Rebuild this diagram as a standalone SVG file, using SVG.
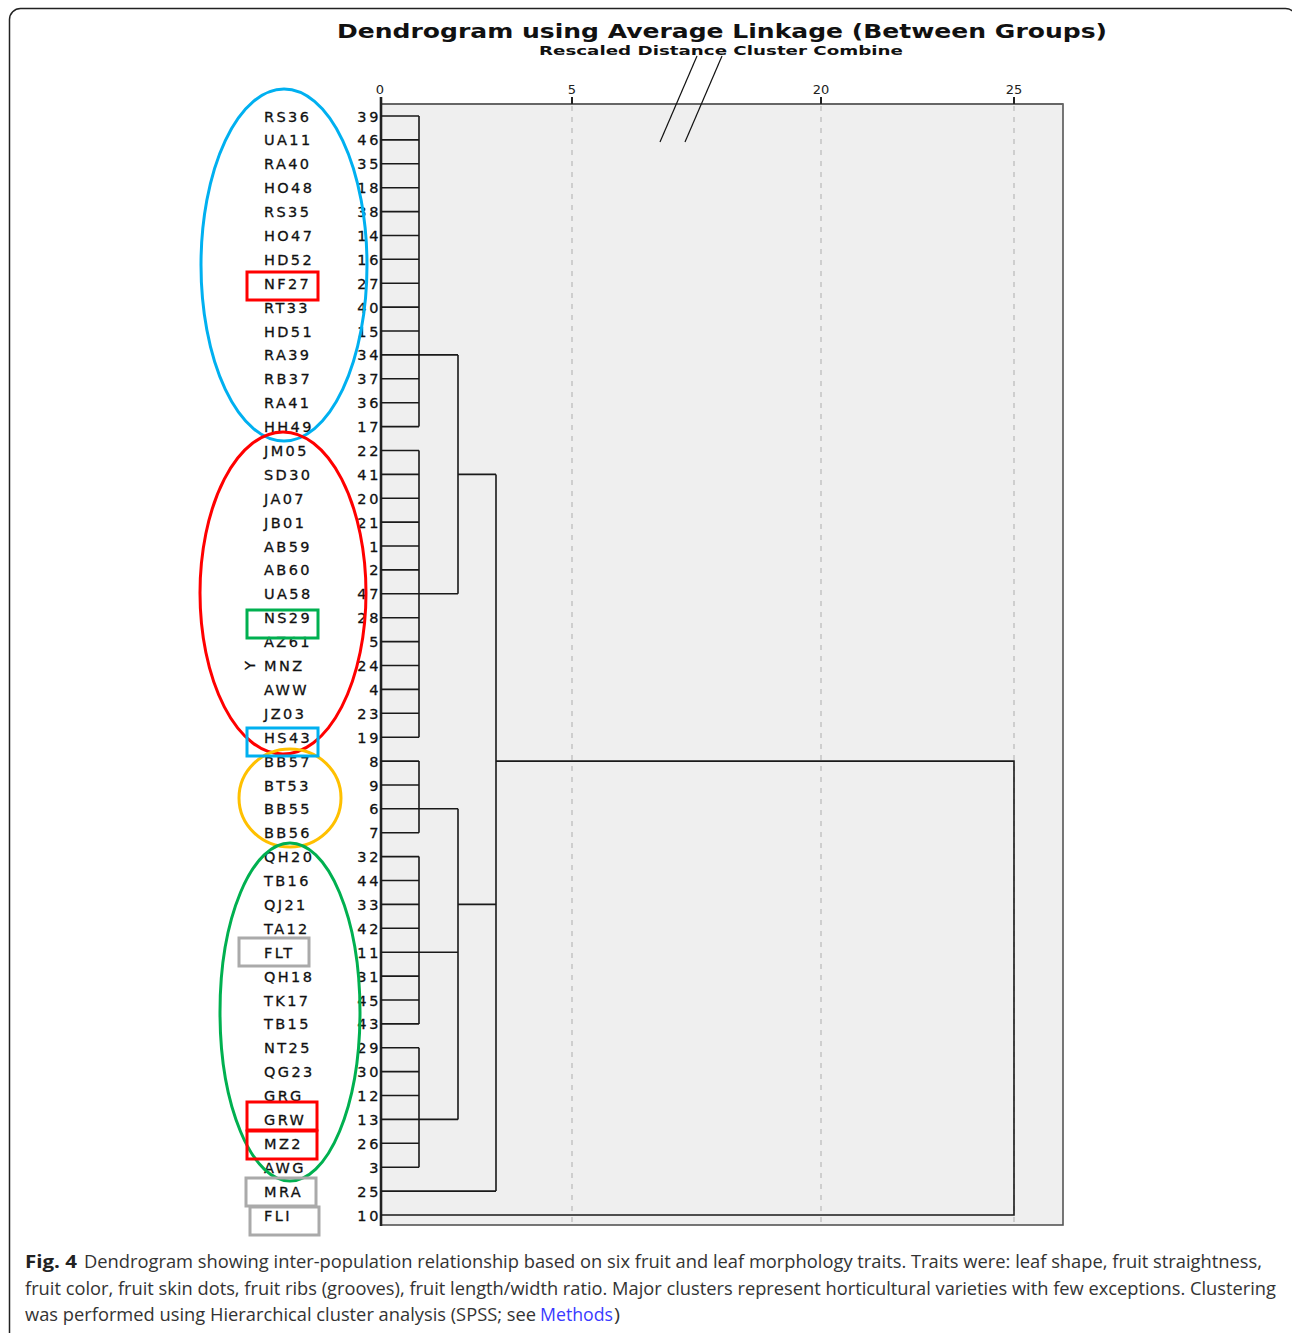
<svg xmlns="http://www.w3.org/2000/svg" width="1292" height="1333" viewBox="0 0 1292 1333">
<style>
.lab{font-family:"DejaVu Sans",sans-serif;font-size:14.5px;letter-spacing:2.4px;fill:#111;stroke:#111;stroke-width:0.3}
.num{font-family:"DejaVu Sans",sans-serif;font-size:14.5px;letter-spacing:2.6px;fill:#111;stroke:#111;stroke-width:0.3;text-anchor:end}
.tick{font-family:"DejaVu Sans",sans-serif;font-size:13px;fill:#222;text-anchor:middle}
.title{font-family:"DejaVu Sans",sans-serif;font-weight:bold;fill:#111}
.cap{font-family:"Open Sans","Liberation Sans",sans-serif;font-size:18px;fill:#333}
.ln{fill:none;stroke:#1a1a1a;stroke-width:1.6}
.ann{fill:none;stroke-width:3}
</style>
<rect x="0" y="0" width="1292" height="1333" fill="#ffffff"/>
<rect x="9.5" y="8.5" width="1287" height="1340" rx="11" fill="none" stroke="#222" stroke-width="1.5"/>
<text class="title" x="337" y="38" font-size="19" textLength="770" lengthAdjust="spacingAndGlyphs">Dendrogram using Average Linkage (Between Groups)</text>
<text class="title" x="539" y="55" font-size="12.5" textLength="364" lengthAdjust="spacingAndGlyphs">Rescaled Distance Cluster Combine</text>
<g id="plot-frame">
<rect x="381" y="104" width="682" height="1121" fill="#efefef" stroke="#555" stroke-width="1.6"/>
<line x1="381" y1="104" x2="1063" y2="104" stroke="#666" stroke-width="2.2"/>
<g stroke="#c4c4c4" stroke-width="1.5" stroke-dasharray="5,6">
<line x1="572" y1="106" x2="572" y2="1225"/>
<line x1="821" y1="106" x2="821" y2="1225"/>
<line x1="1014" y1="106" x2="1014" y2="1225"/>
</g>
<g stroke="#222" stroke-width="2">
<line x1="572" y1="97" x2="572" y2="104"/>
<line x1="821" y1="97" x2="821" y2="104"/>
<line x1="1014" y1="97" x2="1014" y2="104"/>
</g>
<line x1="381" y1="97" x2="381" y2="1226" stroke="#222" stroke-width="2.6"/>
<text class="tick" x="380" y="94">0</text>
<text class="tick" x="572" y="94">5</text>
<text class="tick" x="821" y="94">20</text>
<text class="tick" x="1014" y="94">25</text>
</g>
<g id="slash" stroke="#111" stroke-width="1.2">
<line x1="697" y1="56" x2="660" y2="142"/>
<line x1="722" y1="56" x2="685" y2="142"/>
</g>
<g id="connectors">
<path class="ln" d="M381 116H419M381 139.9H419M381 163.8H419M381 187.7H419M381 211.6H419M381 235.5H419M381 259.3H419M381 283.2H419M381 307.1H419M381 331H419M381 354.9H419M381 378.8H419M381 402.7H419M381 426.6H419M381 450.5H419M381 474.4H419M381 498.3H419M381 522.1H419M381 546H419M381 569.9H419M381 593.8H419M381 617.7H419M381 641.6H419M381 665.5H419M381 689.4H419M381 713.3H419M381 737.2H419M381 761.1H419M381 785H419M381 808.8H419M381 832.7H419M381 856.6H419M381 880.5H419M381 904.4H419M381 928.3H419M381 952.2H419M381 976.1H419M381 1000H419M381 1023.9H419M381 1047.8H419M381 1071.6H419M381 1095.5H419M381 1119.4H419M381 1143.3H419M381 1167.2H419"/>
<path class="ln" d="M419 116V426.6M419 450.5V737.2M419 761.1V832.7M419 856.6V1023.9M419 1047.8V1167.2"/>
<path class="ln" d="M419 354.9H458M419 593.8H458M458 354.9V593.8M419 808.8H458M419 952.2H458M419 1119.4H458M458 808.8V1119.4"/>
<path class="ln" d="M458 474.4H496M458 904.4H496M496 474.4V1191.1M381 1191.1H496"/>
<path class="ln" d="M496 761.1H1014V1215H381"/>
</g>
<g id="leaves">
<g id="leaf-RS36"><text class="lab" x="264" y="121.5">RS36</text><text class="num" x="381" y="121.5">39</text></g>
<g id="leaf-UA11"><text class="lab" x="264" y="145.4">UA11</text><text class="num" x="381" y="145.4">46</text></g>
<g id="leaf-RA40"><text class="lab" x="264" y="169.3">RA40</text><text class="num" x="381" y="169.3">35</text></g>
<g id="leaf-HO48"><text class="lab" x="264" y="193.2">HO48</text><text class="num" x="381" y="193.2">18</text></g>
<g id="leaf-RS35"><text class="lab" x="264" y="217.1">RS35</text><text class="num" x="381" y="217.1">38</text></g>
<g id="leaf-HO47"><text class="lab" x="264" y="241">HO47</text><text class="num" x="381" y="241">14</text></g>
<g id="leaf-HD52"><text class="lab" x="264" y="264.8">HD52</text><text class="num" x="381" y="264.8">16</text></g>
<g id="leaf-NF27"><text class="lab" x="264" y="288.7">NF27</text><text class="num" x="381" y="288.7">27</text></g>
<g id="leaf-RT33"><text class="lab" x="264" y="312.6">RT33</text><text class="num" x="381" y="312.6">40</text></g>
<g id="leaf-HD51"><text class="lab" x="264" y="336.5">HD51</text><text class="num" x="381" y="336.5">15</text></g>
<g id="leaf-RA39"><text class="lab" x="264" y="360.4">RA39</text><text class="num" x="381" y="360.4">34</text></g>
<g id="leaf-RB37"><text class="lab" x="264" y="384.3">RB37</text><text class="num" x="381" y="384.3">37</text></g>
<g id="leaf-RA41"><text class="lab" x="264" y="408.2">RA41</text><text class="num" x="381" y="408.2">36</text></g>
<g id="leaf-HH49"><text class="lab" x="264" y="432.1">HH49</text><text class="num" x="381" y="432.1">17</text></g>
<g id="leaf-JM05"><text class="lab" x="264" y="456">JM05</text><text class="num" x="381" y="456">22</text></g>
<g id="leaf-SD30"><text class="lab" x="264" y="479.9">SD30</text><text class="num" x="381" y="479.9">41</text></g>
<g id="leaf-JA07"><text class="lab" x="264" y="503.8">JA07</text><text class="num" x="381" y="503.8">20</text></g>
<g id="leaf-JB01"><text class="lab" x="264" y="527.6">JB01</text><text class="num" x="381" y="527.6">21</text></g>
<g id="leaf-AB59"><text class="lab" x="264" y="551.5">AB59</text><text class="num" x="381" y="551.5">1</text></g>
<g id="leaf-AB60"><text class="lab" x="264" y="575.4">AB60</text><text class="num" x="381" y="575.4">2</text></g>
<g id="leaf-UA58"><text class="lab" x="264" y="599.3">UA58</text><text class="num" x="381" y="599.3">47</text></g>
<g id="leaf-NS29"><text class="lab" x="264" y="623.2">NS29</text><text class="num" x="381" y="623.2">28</text></g>
<g id="leaf-AZ61"><text class="lab" x="264" y="647.1">AZ61</text><text class="num" x="381" y="647.1">5</text></g>
<g id="leaf-MNZ"><text class="lab" x="264" y="671">MNZ</text><text class="num" x="381" y="671">24</text><text class="lab" transform="translate(250,665.5) rotate(-90)" text-anchor="middle" y="5" style="letter-spacing:0">Y</text></g>
<g id="leaf-AWW"><text class="lab" x="264" y="694.9">AWW</text><text class="num" x="381" y="694.9">4</text></g>
<g id="leaf-JZ03"><text class="lab" x="264" y="718.8">JZ03</text><text class="num" x="381" y="718.8">23</text></g>
<g id="leaf-HS43"><text class="lab" x="264" y="742.7">HS43</text><text class="num" x="381" y="742.7">19</text></g>
<g id="leaf-BB57"><text class="lab" x="264" y="766.6">BB57</text><text class="num" x="381" y="766.6">8</text></g>
<g id="leaf-BT53"><text class="lab" x="264" y="790.5">BT53</text><text class="num" x="381" y="790.5">9</text></g>
<g id="leaf-BB55"><text class="lab" x="264" y="814.3">BB55</text><text class="num" x="381" y="814.3">6</text></g>
<g id="leaf-BB56"><text class="lab" x="264" y="838.2">BB56</text><text class="num" x="381" y="838.2">7</text></g>
<g id="leaf-QH20"><text class="lab" x="264" y="862.1">QH20</text><text class="num" x="381" y="862.1">32</text></g>
<g id="leaf-TB16"><text class="lab" x="264" y="886">TB16</text><text class="num" x="381" y="886">44</text></g>
<g id="leaf-QJ21"><text class="lab" x="264" y="909.9">QJ21</text><text class="num" x="381" y="909.9">33</text></g>
<g id="leaf-TA12"><text class="lab" x="264" y="933.8">TA12</text><text class="num" x="381" y="933.8">42</text></g>
<g id="leaf-FLT"><text class="lab" x="264" y="957.7">FLT</text><text class="num" x="381" y="957.7">11</text></g>
<g id="leaf-QH18"><text class="lab" x="264" y="981.6">QH18</text><text class="num" x="381" y="981.6">31</text></g>
<g id="leaf-TK17"><text class="lab" x="264" y="1005.5">TK17</text><text class="num" x="381" y="1005.5">45</text></g>
<g id="leaf-TB15"><text class="lab" x="264" y="1029.4">TB15</text><text class="num" x="381" y="1029.4">43</text></g>
<g id="leaf-NT25"><text class="lab" x="264" y="1053.3">NT25</text><text class="num" x="381" y="1053.3">29</text></g>
<g id="leaf-QG23"><text class="lab" x="264" y="1077.1">QG23</text><text class="num" x="381" y="1077.1">30</text></g>
<g id="leaf-GRG"><text class="lab" x="264" y="1101">GRG</text><text class="num" x="381" y="1101">12</text></g>
<g id="leaf-GRW"><text class="lab" x="264" y="1124.9">GRW</text><text class="num" x="381" y="1124.9">13</text></g>
<g id="leaf-MZ2"><text class="lab" x="264" y="1148.8">MZ2</text><text class="num" x="381" y="1148.8">26</text></g>
<g id="leaf-AWG"><text class="lab" x="264" y="1172.7">AWG</text><text class="num" x="381" y="1172.7">3</text></g>
<g id="leaf-MRA"><text class="lab" x="264" y="1196.6">MRA</text><text class="num" x="381" y="1196.6">25</text></g>
<g id="leaf-FLI"><text class="lab" x="264" y="1220.5">FLI</text><text class="num" x="381" y="1220.5">10</text></g>
</g>
<g id="annotations">
<ellipse class="ann" cx="284" cy="265" rx="83" ry="176" stroke="#00b0f0"/>
<ellipse class="ann" cx="283" cy="593" rx="83" ry="161" stroke="#ff0000"/>
<ellipse class="ann" cx="290" cy="798" rx="51" ry="49" stroke="#ffc000"/>
<ellipse class="ann" cx="290" cy="1012" rx="70" ry="169" stroke="#00b050"/>
<rect class="ann" x="247" y="272" width="71" height="28" stroke="#ff0000"/>
<rect class="ann" x="247" y="610" width="71" height="28" stroke="#00b050"/>
<rect class="ann" x="247" y="728" width="71" height="28" stroke="#00b0f0"/>
<rect class="ann" x="239" y="938" width="70" height="28" stroke="#aaaaaa"/>
<rect class="ann" x="247" y="1102" width="70" height="28" stroke="#ff0000"/>
<rect class="ann" x="247" y="1131" width="70" height="28" stroke="#ff0000"/>
<rect class="ann" x="246" y="1178" width="70" height="28" stroke="#aaaaaa"/>
<rect class="ann" x="250" y="1207" width="69" height="28" stroke="#aaaaaa"/>
</g>
<g id="caption">
<text class="cap" x="25" y="1268" font-weight="bold" style="fill:#222" textLength="52" lengthAdjust="spacingAndGlyphs">Fig. 4</text>
<text class="cap" x="84" y="1268" textLength="1178" lengthAdjust="spacingAndGlyphs">Dendrogram showing inter-population relationship based on six fruit and leaf morphology traits. Traits were: leaf shape, fruit straightness,</text>
<text class="cap" x="25" y="1295" textLength="1251" lengthAdjust="spacingAndGlyphs">fruit color, fruit skin dots, fruit ribs (grooves), fruit length/width ratio. Major clusters represent horticultural varieties with few exceptions. Clustering</text>
<text class="cap" x="25" y="1321" textLength="511" lengthAdjust="spacingAndGlyphs">was performed using Hierarchical cluster analysis (SPSS; see</text>
<text class="cap" x="540" y="1321" style="fill:#3a3aff" textLength="73" lengthAdjust="spacingAndGlyphs">Methods</text>
<text class="cap" x="614" y="1321" textLength="6" lengthAdjust="spacingAndGlyphs">)</text>
</g>
</svg>
